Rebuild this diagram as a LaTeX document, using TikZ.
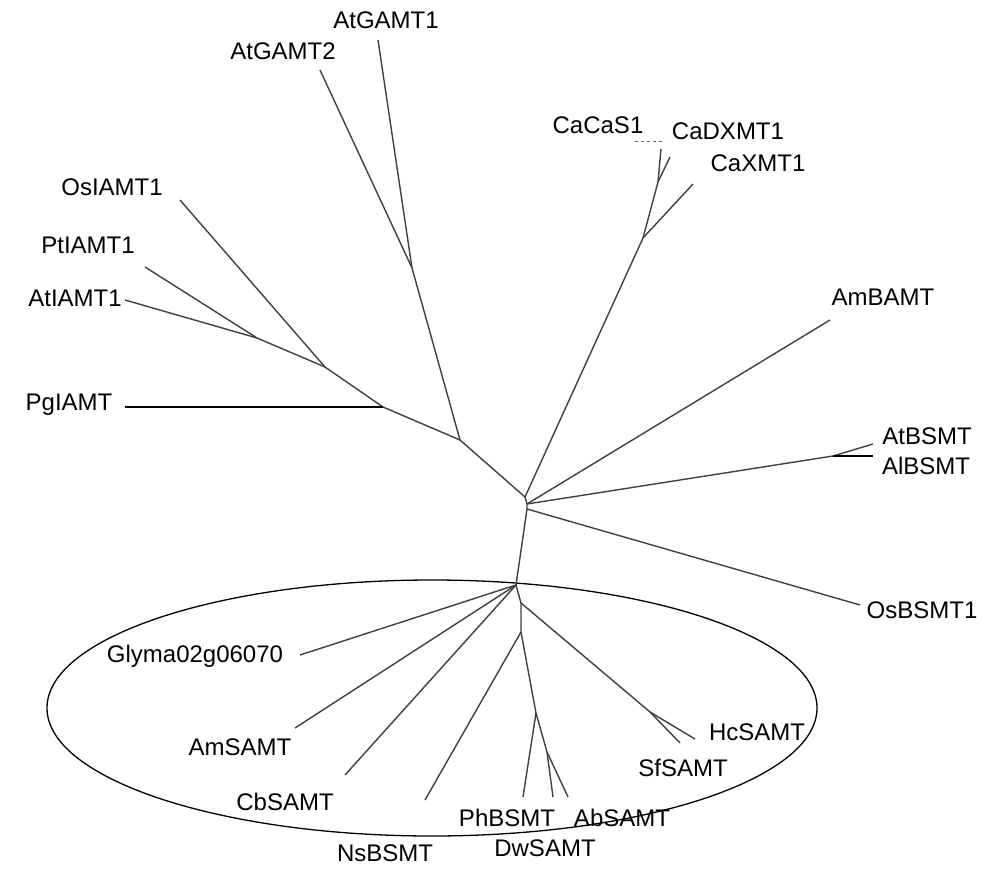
\documentclass[tikz,border=0pt]{standalone}
\usepackage{fontspec}
\setmainfont{Liberation Sans}
\usetikzlibrary{calc}
\tikzset{
  branch/.style={draw=black!75, line width=1.4pt},
  plainbranch/.style={draw=black, line width=1.4pt},
  shortbranch/.style={draw=black!60, line width=1pt, dash pattern=on 3pt off 3pt},
  clade/.style={draw=black, line width=1.3pt},
  taxon/.style={font=\fontsize{24}{28}\selectfont, inner sep=0pt}
}

\begin{document}
\begin{tikzpicture}[x=1pt, y=-1pt]
  \useasboundingbox (0,0) rectangle (990,893);
  % inner nodes
  \coordinate (n0) at (525,497);
  \coordinate (n1) at (527,504);
  \coordinate (n2) at (527,509);
  \coordinate (n3) at (516,585);
  \coordinate (n4) at (521,603);
  \coordinate (n5) at (521,632);
  \coordinate (n6) at (536,713);
  \coordinate (n7) at (547,752);
  \coordinate (sf) at (650,712);
  \coordinate (bs) at (833,456);
  \coordinate (ca1) at (643,238);
  \coordinate (ca2) at (658,182);
  \coordinate (n8) at (460,440);
  \coordinate (ga) at (412,268);
  \coordinate (n9) at (383,407);
  \coordinate (n10) at (325,367);
  \coordinate (n11) at (257,338);
  % tips
  \coordinate (tAtGAMT1) at (378,40);
  \coordinate (tAtGAMT2) at (320,70);
  \coordinate (tOsIAMT1) at (180,200);
  \coordinate (tPtIAMT1) at (145,267);
  \coordinate (tAtIAMT1) at (125,300);
  \coordinate (tPgIAMT) at (125,407);
  \coordinate (tCaCaS1) at (661,149);
  \coordinate (tCaDXMT1) at (670,157);
  \coordinate (tCaXMT1) at (693,184);
  \coordinate (tAmBAMT) at (830,320);
  \coordinate (tAtBSMT) at (873,444);
  \coordinate (tAlBSMT) at (873,456);
  \coordinate (tOsBSMT1) at (860,605);
  \coordinate (tGlyma) at (300,655);
  \coordinate (tAmSAMT) at (295,728);
  \coordinate (tCbSAMT) at (345,775);
  \coordinate (tNsBSMT) at (425,800);
  \coordinate (tPhBSMT) at (523,797);
  \coordinate (tDwSAMT) at (553,797);
  \coordinate (tAbSAMT) at (568,797);
  \coordinate (tSfSAMT) at (680,743);
  \coordinate (tHcSAMT) at (695,739);
  \coordinate (s1) at (635,142);
  \coordinate (s2) at (665,142);

  % clade outline
  \draw[clade] (432,708) ellipse [x radius=385, y radius=128];

  % branches
  \draw[branch] (n0) -- (n1) -- (n2) -- (n3) -- (n4) -- (n5);
  \draw[branch] (n0) -- (ca1) -- (ca2);
  \draw[branch] (ca1) -- (tCaXMT1);
  \draw[branch] (ca2) -- (tCaCaS1);
  \draw[branch] (ca2) -- (tCaDXMT1);
  \draw[shortbranch] (s1) -- (s2);
  \draw[branch] (n0) -- (n8) -- (ga);
  \draw[branch] (ga) -- (tAtGAMT1);
  \draw[branch] (ga) -- (tAtGAMT2);
  \draw[branch] (n8) -- (n9) -- (n10) -- (n11);
  \draw[plainbranch] (n9) -- (tPgIAMT);
  \draw[branch] (n10) -- (tOsIAMT1);
  \draw[branch] (n11) -- (tPtIAMT1);
  \draw[branch] (n11) -- (tAtIAMT1);
  \draw[branch] (n1) -- (tAmBAMT);
  \draw[branch] (n1) -- (bs) -- (tAtBSMT);
  \draw[plainbranch] (bs) -- (tAlBSMT);
  \draw[branch] (n2) -- (tOsBSMT1);
  \draw[branch] (n3) -- (tGlyma);
  \draw[branch] (n3) -- (tAmSAMT);
  \draw[branch] (n3) -- (tCbSAMT);
  \draw[branch] (n4) -- (sf) -- (tSfSAMT);
  \draw[branch] (sf) -- (tHcSAMT);
  \draw[branch] (n5) -- (tNsBSMT);
  \draw[branch] (n5) -- (n6) -- (tPhBSMT);
  \draw[branch] (n6) -- (n7) -- (tDwSAMT);
  \draw[branch] (n7) -- (tAbSAMT);

  % labels
  \node[taxon] (lAtGAMT1) at (386,20) {AtGAMT1};
  \node[taxon] (lAtGAMT2) at (283,51) {AtGAMT2};
  \node[taxon] (lOsIAMT1) at (112,187) {OsIAMT1};
  \node[taxon] (lPtIAMT1) at (88,245) {PtIAMT1};
  \node[taxon] (lAtIAMT1) at (75,298) {AtIAMT1};
  \node[taxon] (lPgIAMT) at (69,405) {PgIAMT};
  \node[taxon] (lCaCaS1) at (598,125) {CaCaS1};
  \node[taxon] (lCaDXMT1) at (728,131) {CaDXMT1};
  \node[taxon] (lCaXMT1) at (758,163) {CaXMT1};
  \node[taxon] (lAmBAMT) at (883,297) {AmBAMT};
  \node[taxon] (lAtBSMT) at (927,436) {AtBSMT};
  \node[taxon] (lAlBSMT) at (926,466) {AlBSMT};
  \node[taxon] (lOsBSMT1) at (922,610) {OsBSMT1};
  \node[taxon] (lGlyma) at (195,656) {Glyma02g06070};
  \node[taxon] (lAmSAMT) at (240,747) {AmSAMT};
  \node[taxon] (lCbSAMT) at (285,802) {CbSAMT};
  \node[taxon] (lNsBSMT) at (385,853) {NsBSMT};
  \node[taxon] (lPhBSMT) at (507,818) {PhBSMT};
  \node[taxon] (lDwSAMT) at (545,848) {DwSAMT};
  \node[taxon] (lAbSAMT) at (622,818) {AbSAMT};
  \node[taxon] (lSfSAMT) at (683,768) {SfSAMT};
  \node[taxon] (lHcSAMT) at (757,732) {HcSAMT};
\end{tikzpicture}
\end{document}
